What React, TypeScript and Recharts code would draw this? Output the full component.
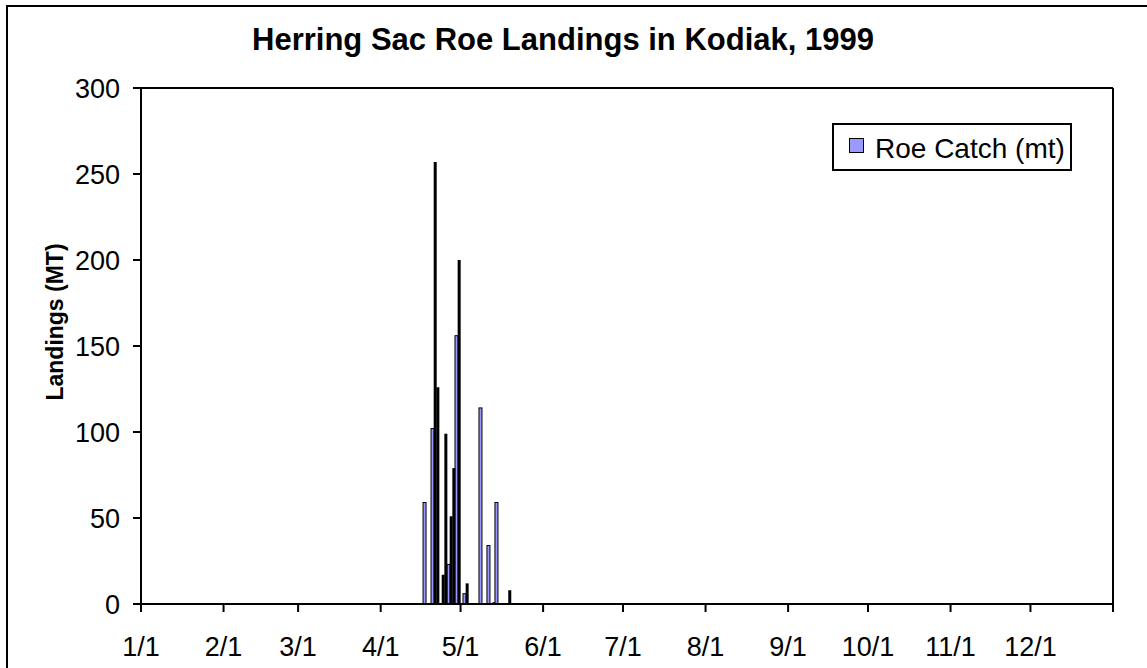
import React from "react";
import { BarChart, Bar, XAxis, YAxis, ReferenceLine } from "recharts";

// month tick labels and their day-of-year offsets (1/1 = 0)
const monthLabels = ["1/1", "2/1", "3/1", "4/1", "5/1", "6/1", "7/1", "8/1", "9/1", "10/1", "11/1", "12/1"];
const monthStarts = [0, 31, 59, 90, 120, 151, 181, 212, 243, 273, 304, 334];
const yearEnd = 365;
const yTicks = [0, 50, 100, 150, 200, 250, 300];

// roe catch, outlined bars (the legend series)
const roeDates = ["4/17", "4/20", "4/26", "4/29", "5/2", "5/8", "5/11", "5/14"];
const roeCatch = [59, 102, 23, 156, 6, 114, 34, 59];

// dark bars drawn alongside
const darkDates = ["4/21", "4/22", "4/24", "4/25", "4/27", "4/28", "4/30", "5/3", "5/13", "5/19"];
const darkCatch = [257, 126, 17, 99, 51, 79, 200, 12, 1, 8];

const FONT = '"Liberation Sans", Arial, sans-serif';
const ROE_BLUE = "#9999FF";

function dayOfYear(date: string) {
  const [m, d] = date.split("/").map(Number);
  return monthStarts[m - 1] + d - 1;
}

// bars sit in the middle of their day slot
function buildData() {
  const rows: { day: number; roe: number; dark: number }[] = [];
  roeDates.forEach((d, i) => rows.push({ day: dayOfYear(d) + 0.5, roe: roeCatch[i], dark: 0 }));
  darkDates.forEach((d, i) => rows.push({ day: dayOfYear(d) + 0.5, roe: 0, dark: darkCatch[i] }));
  return rows.sort((a, b) => a.day - b.day);
}

const RoeBar = (p: any) => {
  if (!p.height || p.height <= 0) return <g />;
  const cx = p.x + p.width / 2;
  return (
    <rect x={cx - 1.5} y={p.y} width={3} height={p.height}
          fill={ROE_BLUE} stroke="#000" strokeWidth={1} />
  );
};

const DarkBar = (p: any) => {
  if (!p.height || p.height <= 0) return <g />;
  const cx = p.x + p.width / 2;
  return <rect x={cx - 1.5} y={p.y} width={3} height={p.height} fill="#000" />;
};

const YLabel = (props: any) => {
  const vb = props.viewBox;
  const cx = vb.x + 63;
  const cy = vb.y + vb.height / 2 - 24;
  return (
    <text x={cx} y={cy} transform={`rotate(-90 ${cx} ${cy})`} textAnchor="middle"
          fontSize={23} fontWeight="bold" fontFamily={FONT} fill="#000">
      Landings (MT)
    </text>
  );
};

export default function App() {
  const data = buildData();
  const tickStyle = { fill: "#000", fontSize: 27, fontFamily: FONT };
  const line = { stroke: "#000", strokeWidth: 2 };

  return (
    <div style={{ position: "absolute", left: 0, top: 0, width: 1147, height: 668,
                  overflow: "hidden", background: "#fff", fontFamily: FONT }}>
      {/* outer chart frame, runs off the right and bottom edges */}
      <div style={{ position: "absolute", left: 6, top: 5, width: 1400, height: 900,
                    border: "2px solid #000", boxSizing: "border-box" }} />

      {/* Title */}
      <div style={{ position: "absolute", left: 163, top: 24, width: 800, textAlign: "center",
                    fontSize: 31, lineHeight: "31px", fontWeight: "bold", color: "#000" }}>
        Herring Sac Roe Landings in Kodiak, 1999
      </div>

      <div style={{ position: "absolute", left: 0, top: 0 }}>
        <BarChart width={1147} height={668} data={data}
                  margin={{ top: 88, right: 34, bottom: 0, left: 0 }}>
          <XAxis
            type="number"
            dataKey="day"
            domain={[0, yearEnd]}
            ticks={[...monthStarts, yearEnd]}
            interval={0}
            tickFormatter={(v: number) => {
              const i = monthStarts.indexOf(v);
              return i >= 0 ? monthLabels[i] : "";
            }}
            height={64}
            tick={tickStyle}
            tickSize={8}
            tickMargin={25}
            axisLine={line}
            tickLine={line}
          />
          <YAxis
            domain={[0, 300]}
            ticks={yTicks}
            interval={0}
            width={141}
            tick={tickStyle}
            tickSize={8}
            tickMargin={13}
            axisLine={line}
            tickLine={line}
            label={YLabel}
          />
          <ReferenceLine y={300} stroke="#000" strokeWidth={2} />
          <ReferenceLine x={yearEnd} stroke="#000" strokeWidth={2} />
          <Bar dataKey="roe" name="Roe Catch (mt)" stackId="a" shape={RoeBar} isAnimationActive={false} />
          <Bar dataKey="dark" stackId="a" shape={DarkBar} isAnimationActive={false} />
        </BarChart>
      </div>

      {/* Legend */}
      <div style={{ position: "absolute", left: 832, top: 123, width: 240, height: 48,
                    border: "2px solid #000", boxSizing: "border-box", background: "#fff" }}>
        <div style={{ position: "absolute", left: 15, top: 13, width: 15, height: 15,
                      background: ROE_BLUE, border: "1.5px solid #000", boxSizing: "border-box" }} />
        <div style={{ position: "absolute", left: 41, top: 10, fontSize: 28, lineHeight: "28px",
                      color: "#000", whiteSpace: "nowrap" }}>
          Roe Catch (mt)
        </div>
      </div>
    </div>
  );
}
